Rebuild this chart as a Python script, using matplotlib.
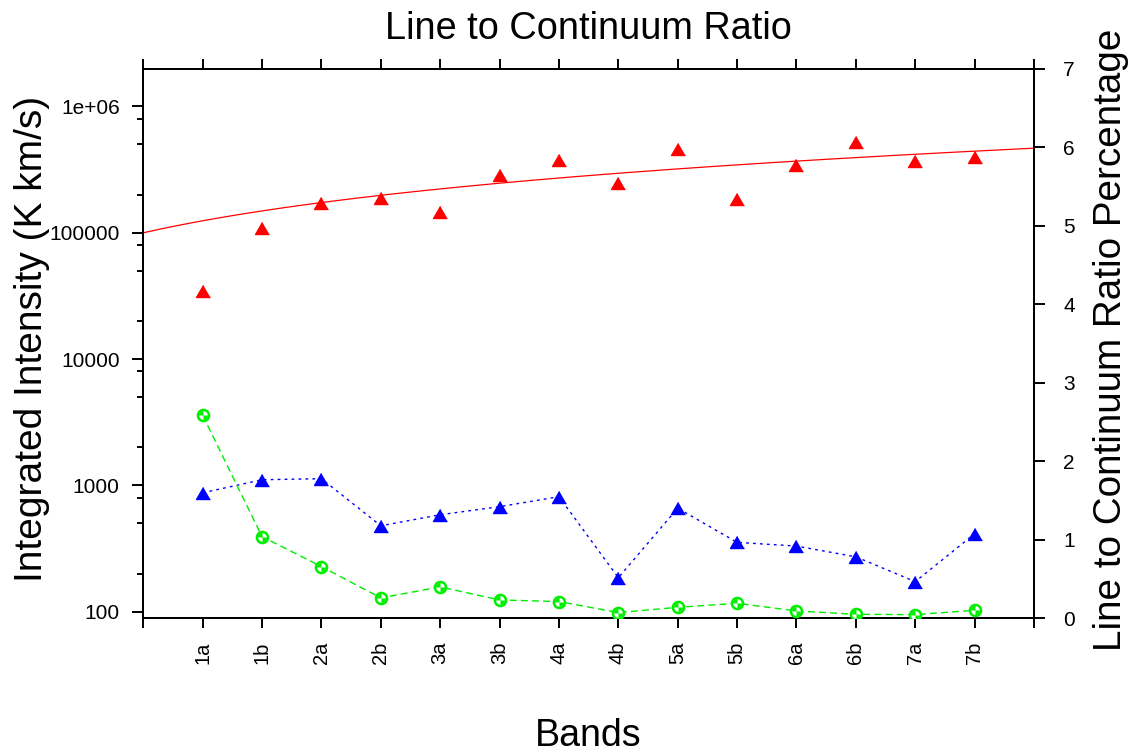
import numpy as np
import matplotlib
matplotlib.use('Agg')
import matplotlib.pyplot as plt
from matplotlib.path import Path
from matplotlib.ticker import LogLocator, NullFormatter

plt.rcParams['font.family'] = ['Liberation Sans', 'DejaVu Sans']

# ---------------- data ----------------
bands = ['1a', '1b', '2a', '2b', '3a', '3b', '4a', '4b', '5a', '5b', '6a', '6b', '7a', '7b']
line_intensity = [34300, 108200, 173000, 186900, 145600, 285800, 379200,
                  247800, 463400, 184200, 346000, 521600, 370000, 400500]
continuum_intensity = [874, 1109, 1130, 479, 586, 679, 814,
                       186, 660, 354, 331, 272, 173, 414]
ratio_percent = [2.586, 1.041, 0.659, 0.260, 0.400, 0.234, 0.213,
                 0.073, 0.140, 0.191, 0.094, 0.051, 0.047, 0.102]
fit_intercept = 1.0e5
fit_slope = 2.45e4
left_ticks = [100, 1000, 10000, 100000, 1000000]
left_tick_labels = ['100', '1000', '10000', '100000', '1e+06']
right_ticks = [0, 1, 2, 3, 4, 5, 6, 7]
left_ylim = (88.7, 1.98e6)
right_ylim = (0, 7)

RED = '#ff0000'
BLUE = '#0000ff'
GREEN = '#00ee00'

# ---------------- figure ----------------
fig = plt.figure(figsize=(11.36, 7.55), dpi=100)
L, R, T, B = 143.3, 1034, 69, 618.3
W, H = 1136, 755
ax = fig.add_axes([L / W, 1 - B / H, (R - L) / W, (B - T) / H])

n = len(bands)
x = np.arange(1, n + 1)
xlim = (0, n + 1)

tri = [(0, 0.866), (-1, -0.866), (1, -0.866)]

# fit line
xf = np.linspace(xlim[0], xlim[1], 200)
ax.plot(xf, fit_intercept + fit_slope * xf, color=RED, lw=0.9, zorder=3)
ax.plot(x, line_intensity, ls='none', marker=tri, ms=10, color=RED, zorder=4)

# continuum (blue)
ax.plot(x, continuum_intensity, color=BLUE, ls=(0, (2, 3)), lw=1.0,
        marker=tri, ms=10, zorder=4)

ax.set_yscale('log')
ax.set_ylim(*left_ylim)
ax.set_xlim(*xlim)
ax.set_yticks(left_ticks, labels=left_tick_labels)
ax.set_xticks(np.arange(xlim[0], xlim[1] + 1), labels=[''] + bands + [''], rotation=90)
ax.xaxis.set_minor_locator(plt.NullLocator())
ax.yaxis.set_minor_locator(LogLocator(base=10, subs=[2, 5, 8]))
ax.yaxis.set_minor_formatter(NullFormatter())

ax.tick_params(axis='y', which='major', direction='out', length=8, width=1.4,
               labelsize=15, pad=9)
ax.tick_params(axis='y', which='minor', direction='out', length=4.5, width=1.4)
ax.tick_params(axis='x', which='major', direction='out', length=7.5, width=1.4,
               top=True, labelsize=14.5, pad=9)
for s in ax.spines.values():
    s.set_linewidth(1.4)

# ratio (green) on right axis
ax2 = ax.twinx()
ax2.plot(x, ratio_percent, color=GREEN, ls=(0, (5, 3)), lw=1.0, zorder=3)
ax2.plot(x, ratio_percent, ls='none', marker='o', ms=8, mfc='white',
         mec=GREEN, mew=1.8, zorder=4)


def wedge(a0, a1, k=12):
    t = np.linspace(np.radians(a0), np.radians(a1), k)
    v = [(0, 0)] + list(zip(np.cos(t), np.sin(t))) + [(0, 0)]
    c = [Path.MOVETO] + [Path.LINETO] * k + [Path.CLOSEPOLY]
    return v, c


v1, c1 = wedge(90, 180)
v2, c2 = wedge(270, 360)
quad = Path(v1 + v2, c1 + c2)
ax2.plot(x, ratio_percent, ls='none', marker=quad, ms=6.5, mfc=GREEN,
         mec='none', zorder=5)

ax2.set_ylim(*right_ylim)
ax2.set_yticks(right_ticks)
ax2.tick_params(axis='y', direction='out', length=8, width=1.4, labelsize=15, pad=13)
for s in ax2.spines.values():
    s.set_linewidth(1.4)

# ---------------- text ----------------
fig.text((L + R) / 2 / W, 1 - 39 / H, 'Line to Continuum Ratio', fontsize=27.3,
         ha='center', va='baseline')
fig.text((L + R) / 2 / W, 1 - 746 / H, 'Bands', fontsize=27,
         ha='center', va='baseline')
fig.text(42 / W, 1 - 339 / H, 'Integrated Intensity (K km/s)', fontsize=28,
         rotation=90, rotation_mode='anchor', ha='center', va='baseline')
fig.text(1121 / W, 1 - 340 / H, 'Line to Continuum Ratio Percentage', fontsize=27.8,
         rotation=90, rotation_mode='anchor', ha='center', va='baseline')

fig.savefig('out.png', dpi=100)
